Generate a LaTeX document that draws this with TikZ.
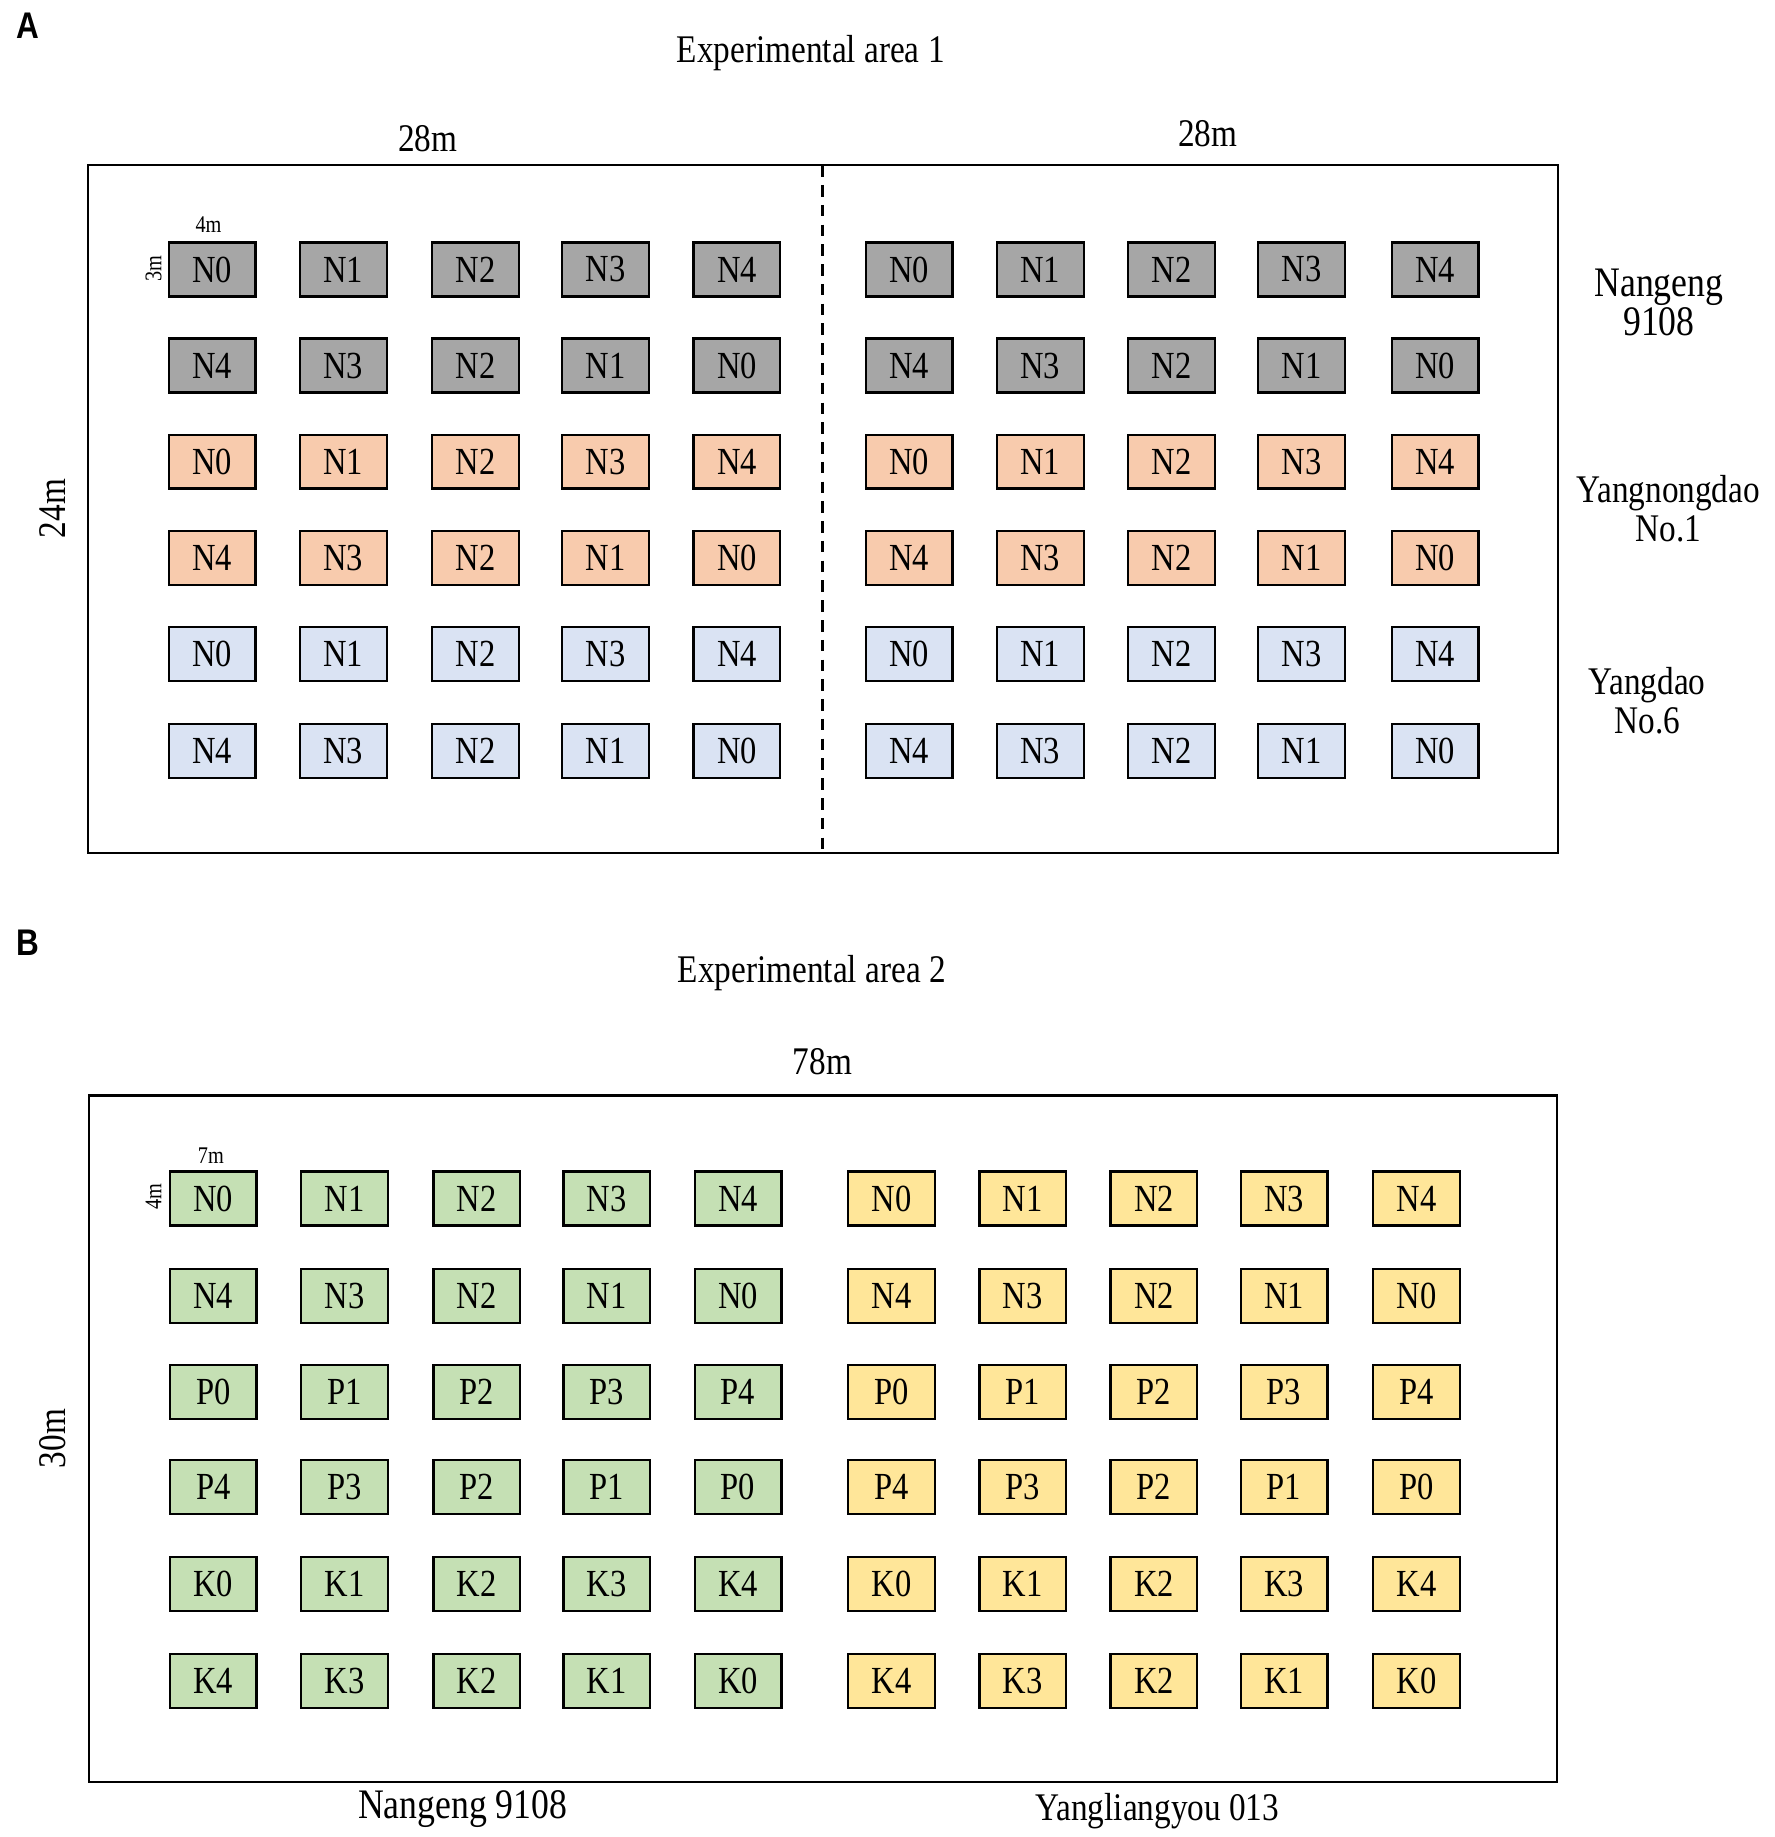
\documentclass[tikz,border=0pt]{standalone}
\usepackage{fontspec}
\setmainfont{Liberation Serif}[FakeStretch=0.85]
\newfontfamily\panelfont{Liberation Sans}[FakeStretch=0.85]
\definecolor{cgray}{HTML}{A6A6A6}
\definecolor{corange}{HTML}{F8CBAD}
\definecolor{cblue}{HTML}{DAE3F3}
\definecolor{cgreen}{HTML}{C5E0B4}
\definecolor{cyellow}{HTML}{FFE699}
\tikzset{
  plotbox/.style={draw=black, line width=0.55pt, minimum width=0.74cm, minimum height=0.46cm,
    inner sep=0pt, font=\fontsize{9.3}{10}\selectfont},
  txt/.style={inner sep=0pt, font=\fontsize{9.5}{9.5}\selectfont, align=center},
  bigtxt/.style={inner sep=0pt, font=\fontsize{10.2}{9.5}\selectfont, align=center},
  smalltxt/.style={inner sep=0pt, font=\fontsize{5.8}{6}\selectfont},
  paneltxt/.style={inner sep=0pt, font=\panelfont\bfseries\fontsize{9}{10}\selectfont},
  frame/.style={draw=black, line width=0.6pt},
}
\begin{document}
\begin{tikzpicture}[x=0.01cm,y=-0.01cm]
\useasboundingbox (0,0) rectangle (1515,1568);

% ---------------- Panel A ----------------
\node[paneltxt] (panA) at (24,22) {A};
\node[txt] (titA) at (692,45) {Experimental area 1};
\node[txt] (wA1) at (365,118) {28m};
\node[txt] (wA2) at (1031,114) {28m};
\node[txt, rotate=90] (hA) at (45,434) {24m};
\draw[frame] (75,141) rectangle (1330,728);
\coordinate (dA1) at (702,141);
\coordinate (dA2) at (702,728);
\draw[line width=0.6pt, dash pattern=on 2.8pt off 2pt] (dA1) -- (dA2);

\foreach \y/\col [count=\r] in {230/cgray,312/cgray,394/corange,476/corange,558/cblue,641/cblue} {
  \foreach \x [count=\c] in {181,293,406,517,629,776,888,1000,1111,1225} {
    \pgfmathtruncatemacro\k{mod(\c-1,5)}
    \pgfmathtruncatemacro\kk{mod(\r,2)==1 ? \k : 4-\k}
    \node[plotbox, fill=\col] (a-\r-\c) at (\x,\y) {N\kk};
  }
}
\node[smalltxt] (sA1) at (178,192) {4m};
\node[smalltxt, rotate=90] (sA2) at (131,229) {3m};

\node[bigtxt] (vA1) at (1416,258) {Nangeng\\9108};
\node[txt] (vA2) at (1424,434) {Yangnongdao\\No.1};
\node[txt] (vA3) at (1406,598) {Yangdao\\No.6};

% ---------------- Panel B ----------------
\node[paneltxt] (panB) at (24,805) {B};
\node[txt] (titB) at (693,831) {Experimental area 2};
\node[txt] (wB) at (702,906) {78m};
\node[txt, rotate=90] (hB) at (45,1228) {30m};
\draw[frame] (76,935) rectangle (1329,1521);

\foreach \y/\lt [count=\r] in {1023/N,1106/N,1188/P,1269/P,1352/K,1435/K} {
  \foreach \x/\col [count=\c] in {182/cgreen,294/cgreen,407/cgreen,518/cgreen,630/cgreen,761/cyellow,873/cyellow,985/cyellow,1096/cyellow,1209/cyellow} {
    \pgfmathtruncatemacro\k{mod(\c-1,5)}
    \pgfmathtruncatemacro\kk{mod(\r,2)==1 ? \k : 4-\k}
    \node[plotbox, fill=\col] (b-\r-\c) at (\x,\y) {\lt\kk};
  }
}
\node[smalltxt] (sB1) at (180,986) {7m};
\node[smalltxt, rotate=90] (sB2) at (131,1021) {4m};

\node[bigtxt] (vB1) at (395,1544) {Nangeng 9108};
\node[txt] (vB2) at (988,1546) {Yangliangyou 013};
\end{tikzpicture}
\end{document}
